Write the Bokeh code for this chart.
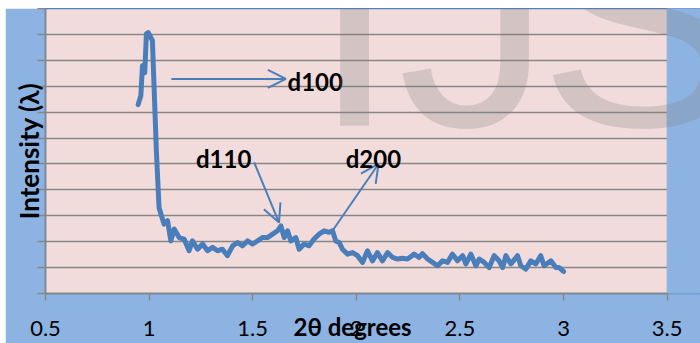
from bokeh.plotting import figure
from bokeh.models import Arrow, OpenHead, Label, FixedTicker, Range1d, Spacer
from bokeh.layouts import column, row
from bokeh.embed import file_html
from bokeh.resources import INLINE

# ---- data ----
two_theta = [0.947, 0.960, 0.968, 0.979, 0.987, 0.996, 1.016, 1.023, 1.035, 1.048,
             1.056, 1.072, 1.089, 1.105, 1.121, 1.145, 1.169, 1.193, 1.209, 1.234,
             1.258, 1.282, 1.306, 1.330, 1.354, 1.378, 1.403, 1.427, 1.451, 1.475,
             1.499, 1.523, 1.547, 1.571, 1.596, 1.620, 1.636, 1.652, 1.668, 1.684,
             1.708, 1.724, 1.748, 1.772, 1.796, 1.820, 1.845, 1.869, 1.885, 1.901,
             1.917, 1.933, 1.958, 1.982, 2.006, 2.030, 2.054, 2.078, 2.102, 2.126,
             2.151, 2.175, 2.199, 2.223, 2.247, 2.279, 2.303, 2.319, 2.344, 2.368,
             2.392, 2.416, 2.440, 2.464, 2.488, 2.513, 2.529, 2.553, 2.577, 2.593,
             2.617, 2.641, 2.665, 2.689, 2.706, 2.722, 2.746, 2.778, 2.794, 2.818,
             2.842, 2.866, 2.890, 2.906, 2.939, 2.963, 2.979, 3.000]
intensity = [7.29, 7.63, 8.79, 8.52, 10.02, 10.07, 9.76, 8.21, 5.51, 3.32,
             3.10, 2.68, 2.81, 2.03, 2.49, 2.16, 2.10, 1.65, 2.03, 1.71,
             1.91, 1.65, 1.78, 1.65, 1.71, 1.46, 1.84, 1.97, 1.84, 2.03,
             1.91, 2.03, 2.16, 2.16, 2.29, 2.42, 2.61, 2.16, 2.42, 2.03,
             2.16, 1.71, 1.91, 1.84, 2.10, 2.29, 2.42, 2.36, 2.42, 2.03,
             1.97, 1.71, 1.52, 1.58, 1.46, 1.20, 1.65, 1.26, 1.58, 1.26,
             1.58, 1.39, 1.33, 1.36, 1.33, 1.52, 1.39, 1.54, 1.33, 1.20,
             1.07, 1.26, 1.20, 1.52, 1.26, 1.46, 1.14, 1.52, 1.07, 1.33,
             1.20, 1.00, 1.46, 1.26, 1.00, 1.46, 1.14, 1.46, 1.07, 0.94,
             1.26, 1.14, 1.46, 1.07, 1.26, 1.00, 1.00, 0.85]

x_ticks = [0.5, 1, 1.5, 2, 2.5, 3, 3.5]
x_tick_labels = ["0.5", "1", "1.5", "2", "2.5", "3", "3.5"]
y_ticks = [0, 1, 2, 3, 4, 5, 6, 7, 8, 9, 10, 11]

x_title = "2θ degrees"
y_title = "Intensity (λ)"

peak_names = ["d100", "d110", "d200"]
peak_label_x = [1.668, 1.226, 1.949]
peak_label_y = [8.17, 5.20, 5.20]
arrow_x0 = [1.107, 1.507, 1.885]
arrow_y0 = [8.28, 5.06, 2.42]
arrow_x1 = [1.660, 1.627, 2.107]
arrow_y1 = [8.28, 2.74, 5.00]

BLUE = "#4A7EBB"
GRID = "#868686"
CHART_BG = "#8DB3E2"

X_MIN, X_MAX = x_ticks[0], x_ticks[-1]
Y_MIN, Y_MAX = y_ticks[0], y_ticks[-1]
# the plot frame runs on to the right edge; the part past the last tick is
# painted as chart background so the watermark can cross it
FRAME_X_END = 3.661

p = figure(width=695, height=335, output_backend="svg", toolbar_location=None,
           x_range=Range1d(X_MIN, FRAME_X_END), y_range=Range1d(Y_MIN, Y_MAX),
           min_border_left=40, min_border_right=0, min_border_top=0,
           min_border_bottom=50)
p.background_fill_color = "#F2DCDB"
p.border_fill_color = CHART_BG
p.outline_line_color = "#4F81BD"
p.outline_line_width = 1.5

p.xgrid.visible = False
p.ygrid.ticker = FixedTicker(ticks=y_ticks)
p.ygrid.grid_line_color = GRID
p.ygrid.grid_line_width = 1.5

p.xaxis.ticker = FixedTicker(ticks=x_ticks)
p.xaxis.bounds = (X_MIN, X_MAX)
p.xaxis.major_label_overrides = {t: s for t, s in zip(x_ticks, x_tick_labels)}
p.yaxis.ticker = FixedTicker(ticks=y_ticks)
for ax in (p.xaxis[0], p.yaxis[0]):
    ax.axis_line_color = GRID
    ax.axis_line_width = 1.5
    ax.major_tick_line_color = GRID
    ax.major_tick_line_width = 1.5
    ax.major_tick_in = 0
    ax.minor_tick_line_color = None
    ax.axis_label_text_font = "Lato"
    ax.axis_label_text_font_style = "bold"
    ax.axis_label_text_font_size = "24px"
    ax.axis_label_text_color = "black"
    ax.major_label_text_font = "Lato"
    ax.major_label_text_font_size = "22px"
    ax.major_label_text_color = "black"

p.xaxis.major_tick_out = 7
p.xaxis.major_label_standoff = 20
# padded with no-break spaces so that it centres under the plot area,
# not under the widened frame
p.xaxis.axis_label = x_title + "\u00a0" * 7
p.xaxis.axis_label_standoff = -27

p.yaxis.major_tick_out = 8
p.yaxis.major_label_text_font_size = "1px"
p.yaxis.major_label_text_color = None
p.yaxis.major_label_standoff = 0
p.yaxis.axis_label = y_title
p.yaxis.axis_label_text_font_size = "26px"
p.yaxis.axis_label_standoff = -7

# chart-area colour to the right of the plot area
p.quad(left=[X_MAX], right=[FRAME_X_END], bottom=[Y_MIN], top=[Y_MAX],
       fill_color=CHART_BG, line_color=CHART_BG, line_width=1)

p.line(two_theta, intensity, line_width=5, line_color=BLUE,
       line_join="round", line_cap="round")

for name, lx, ly, x0, y0, x1, y1 in zip(peak_names, peak_label_x, peak_label_y,
                                        arrow_x0, arrow_y0, arrow_x1, arrow_y1):
    p.add_layout(Arrow(x_start=x0, y_start=y0, x_end=x1, y_end=y1,
                       line_color=BLUE, line_width=2,
                       end=OpenHead(size=18, line_color=BLUE, line_width=2)))
    p.add_layout(Label(x=lx, y=ly, text=name, text_font="Lato",
                       text_font_style="bold", text_font_size="24px",
                       text_color="black", text_baseline="middle",
                       text_align="left"))

# faint watermark letters
for letter, wx in zip(["I", "J", "S"], [1.785, 2.200, 2.881]):
    p.add_layout(Label(x=wx, y=10.6, text=letter, text_font="Liberation Sans",
                       text_font_size="308px", text_color="#808080",
                       text_alpha=0.27, text_baseline="alphabetic",
                       text_align="left"))

layout = column(Spacer(width=700, height=8),
                row(Spacer(width=5, height=335), p))

open("out.html", "w").write(file_html(layout, INLINE))
